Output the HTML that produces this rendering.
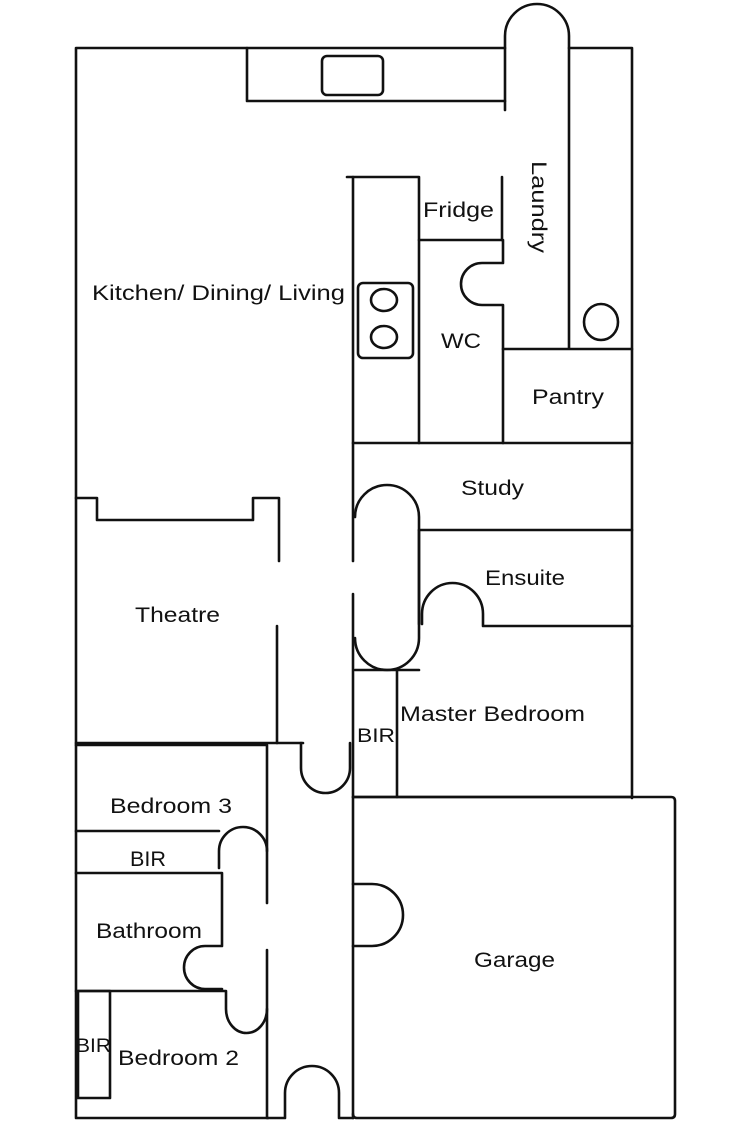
<!DOCTYPE html>
<html><head><meta charset="utf-8"><style>
html,body{margin:0;padding:0;background:#fff}
svg{display:block}
text{font-family:"Liberation Sans",sans-serif;font-size:21px;fill:#111}
</style></head><body>
<svg width="750" height="1124" viewBox="0 0 750 1124" xmlns="http://www.w3.org/2000/svg">
<g fill="none" stroke="#111" stroke-width="2.6" stroke-linejoin="round" stroke-linecap="round">
<!-- outer top-left -->
<path d="M247,48 H76 V1118 H268"/>
<!-- counter -->
<path d="M505,48 H247 V101 H505"/>
<rect x="322" y="56" width="61" height="39" rx="5"/>
<!-- laundry door pill -->
<path d="M505,110 V36 A32,32 0 0 1 569,36 V348"/>
<path d="M569,48 H632 V798"/>
<!-- kitchen bench -->
<path d="M347,177 H419 V443"/>
<path d="M353,177 V561"/>
<path d="M353,594 V1118"/>
<rect x="358" y="283" width="55" height="75" rx="5"/>
<ellipse cx="384" cy="300" rx="13" ry="11"/>
<ellipse cx="384" cy="337" rx="13" ry="11"/>
<!-- fridge -->
<path d="M419,240 H502 V177"/>
<path d="M502,240 H503 V263 H482 A21,21 0 0 0 482,305 H503 V443"/>
<!-- pantry -->
<path d="M503,349 H632"/>
<path d="M353,443 H632"/>
<ellipse cx="601" cy="322" rx="17" ry="18"/>
<!-- study / pill door -->
<path d="M419,530 H632"/>
<path d="M355,517 A32,32 0 0 1 419,517 V638 A32,32 0 0 1 355,638"/>
<path d="M419,530 V624"/>
<!-- ensuite door -->
<path d="M422,624 V614 A30.5,31 0 0 1 483,614 V626 H632"/>
<!-- master BIR -->
<path d="M355,670 H419"/>
<path d="M397,670 V797"/>
<path d="M353,797 H632"/>
<!-- theatre -->
<path d="M76,498 H97 V520 H253 V498 H279 V561"/>
<path d="M277,626 V743"/>
<path d="M76,743 H303"/>
<path d="M301,743 V768 A24.5,25 0 0 0 350,768 V743"/>
<!-- bedroom 3 -->
<path d="M76,745 H267 V903"/>
<path d="M267,950 V1118"/>
<path d="M76,831 H219"/>
<path d="M219,868 V851 A24,24 0 0 1 267,851"/>
<path d="M76,873 H222 V946 H205 A21,21.5 0 0 0 205,989 H222"/>
<path d="M76,991 H226 V1009 A20.5,24 0 0 0 267,1009"/>
<rect x="78" y="991" width="32" height="107"/>
<!-- bottom corridor door -->
<path d="M268,1118 H285 V1093 A27,27 0 0 1 339,1093 V1118 H353"/>
<!-- garage -->
<path d="M353,797 H671 Q675,797 675,801 V1114 Q675,1118 671,1118 H357 Q353,1118 353,1114"/>
<path d="M353,884 H372 A31,31 0 0 1 372,946 H353"/>
</g>
<text x="92" y="300" textLength="253" lengthAdjust="spacingAndGlyphs">Kitchen/ Dining/ Living</text>
<text x="423" y="217" textLength="71" lengthAdjust="spacingAndGlyphs">Fridge</text>
<text transform="translate(532,161) rotate(90)" textLength="92" lengthAdjust="spacingAndGlyphs">Laundry</text>
<text x="441" y="348" textLength="40" lengthAdjust="spacingAndGlyphs">WC</text>
<text x="532" y="404" textLength="72" lengthAdjust="spacingAndGlyphs">Pantry</text>
<text x="461" y="495" textLength="63" lengthAdjust="spacingAndGlyphs">Study</text>
<text x="485" y="585" textLength="80" lengthAdjust="spacingAndGlyphs">Ensuite</text>
<text x="135" y="622" textLength="85" lengthAdjust="spacingAndGlyphs">Theatre</text>
<text x="400" y="721" textLength="185" lengthAdjust="spacingAndGlyphs">Master Bedroom</text>
<text x="357" y="742" style="font-size:19px" textLength="38" lengthAdjust="spacingAndGlyphs">BIR</text>
<text x="110" y="813" textLength="122" lengthAdjust="spacingAndGlyphs">Bedroom 3</text>
<text x="130" y="866" textLength="36" lengthAdjust="spacingAndGlyphs">BIR</text>
<text x="96" y="938" textLength="106" lengthAdjust="spacingAndGlyphs">Bathroom</text>
<text x="76" y="1052" style="font-size:19px" textLength="35" lengthAdjust="spacingAndGlyphs">BIR</text>
<text x="118" y="1065" textLength="121" lengthAdjust="spacingAndGlyphs">Bedroom 2</text>
<text x="474" y="967" textLength="81" lengthAdjust="spacingAndGlyphs">Garage</text>
</svg>
</body></html>
